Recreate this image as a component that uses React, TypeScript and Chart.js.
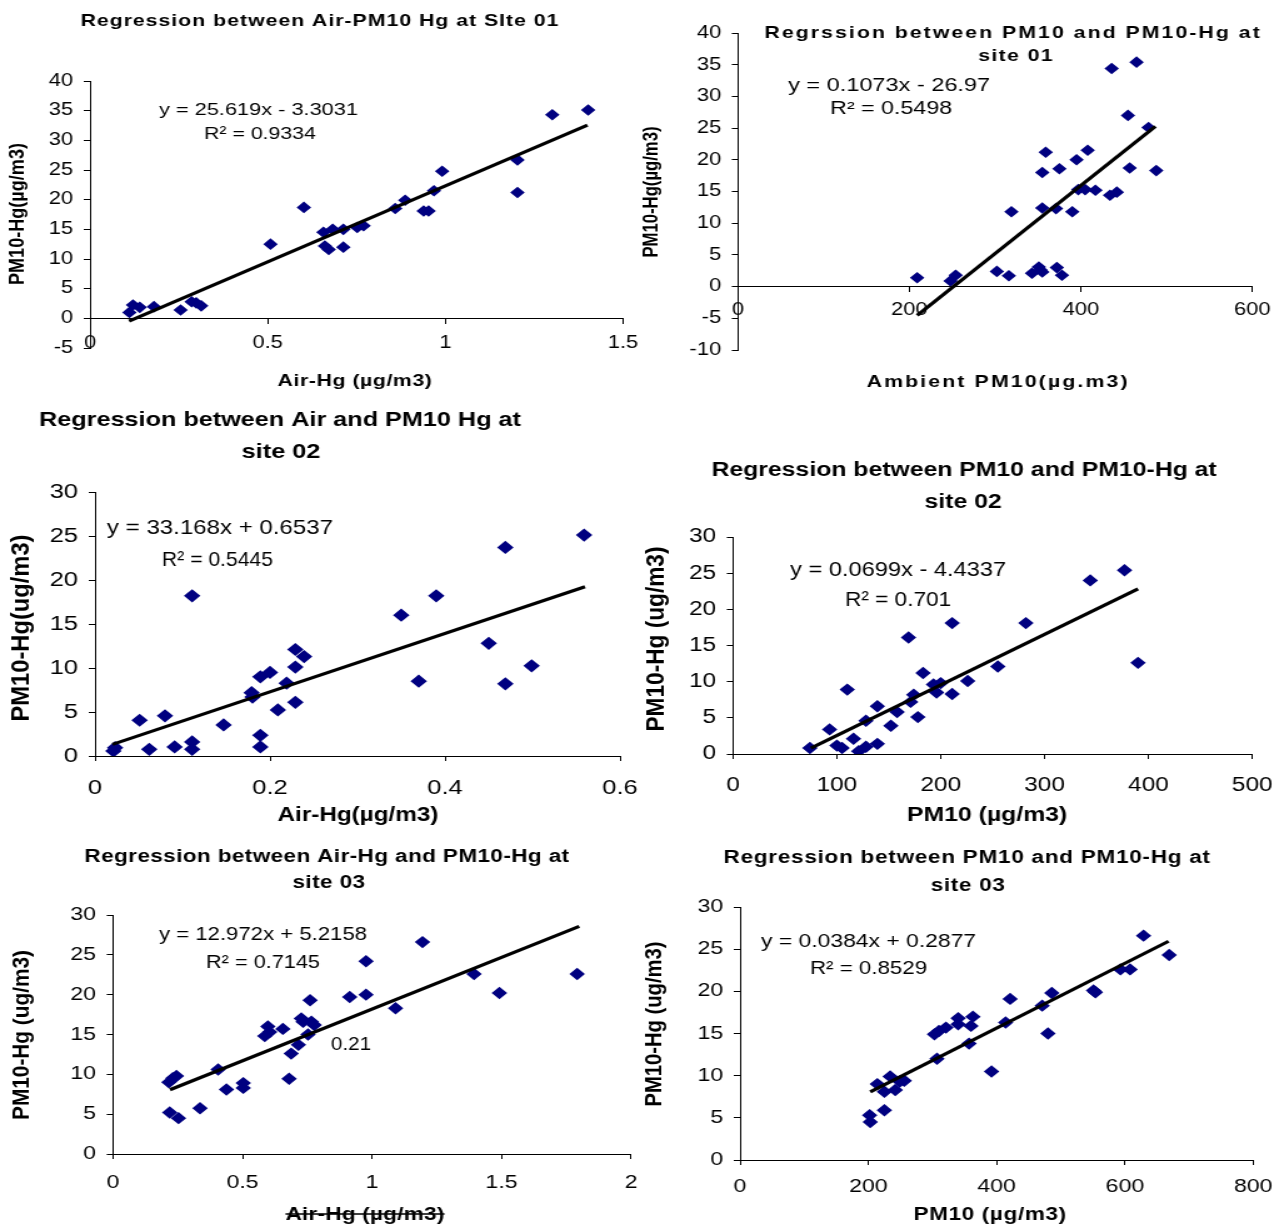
import React, { useEffect, useRef } from 'react';
import { Chart, registerables } from 'chart.js';

Chart.register(...registerables);

// ---------------- DATA ----------------
// Panel 1: Air-Hg vs PM10-Hg, site 01
const s1AirHg = [0.111, 0.121, 0.14, 0.18, 0.255, 0.286, 0.299, 0.313, 0.508, 0.602, 0.657, 0.661, 0.672, 0.683, 0.713, 0.713, 0.752, 0.77, 0.859, 0.887, 0.939, 0.953, 0.968, 0.991, 1.203, 1.203, 1.301, 1.402];
const s1PM10Hg = [1.0, 2.25, 1.85, 1.97, 1.4, 2.8, 2.6, 2.1, 12.5, 18.7, 14.5, 12.2, 11.6, 15.0, 15.0, 12.0, 15.3, 15.6, 18.5, 19.9, 18.1, 18.1, 21.5, 24.8, 26.7, 21.2, 34.3, 35.1];
const s1TrendX = [0.11, 1.4];
const s1TrendY = [-0.48, 32.56];

// Panel 2: Ambient PM10 vs PM10-Hg, site 01
const s1PM10 = [209, 248, 254, 302, 316, 319, 343, 351, 353, 355, 355, 355, 359, 371, 372, 378, 375, 390, 395, 397, 405, 408, 417, 434, 442, 436, 455, 457, 465, 479, 488];
const s1PM10HgB = [1.4, 0.9, 1.8, 2.4, 1.7, 11.8, 2.1, 3.1, 2.6, 2.3, 18.0, 12.4, 21.2, 12.3, 3.0, 1.8, 18.6, 11.8, 20.0, 15.3, 15.3, 21.5, 15.2, 14.4, 14.9, 34.4, 27.0, 18.7, 35.4, 25.1, 18.3];
const s1TrendBX = [209, 487];
const s1TrendBY = [-4.54, 25.29];

// Panel 3: Air-Hg vs PM10-Hg, site 02
const s2AirHg = [0.021, 0.023, 0.051, 0.062, 0.08, 0.091, 0.111, 0.111, 0.111, 0.147, 0.179, 0.18, 0.189, 0.189, 0.189, 0.2, 0.209, 0.219, 0.229, 0.229, 0.229, 0.239, 0.35, 0.37, 0.39, 0.45, 0.469, 0.469, 0.499, 0.559];
const s2PM10Hg = [0.57, 0.95, 4.06, 0.76, 4.56, 1.03, 18.2, 1.6, 0.76, 3.53, 7.2, 6.7, 2.35, 1.03, 9.0, 9.5, 5.24, 8.28, 10.1, 6.1, 12.1, 11.3, 16.0, 8.5, 18.2, 12.8, 23.7, 8.2, 10.25, 25.1];
const s2TrendX = [0.02, 0.56];
const s2TrendY = [1.32, 19.23];

// Panel 4: PM10 vs PM10-Hg, site 02
const s2PM10 = [74, 93, 100, 105, 110, 116, 121, 128, 128, 139, 139, 152, 158, 169, 171, 174, 178, 183, 193, 196, 200, 211, 211, 226, 255, 282, 344, 377, 390];
const s2PM10HgB = [0.83, 3.4, 1.16, 0.83, 8.9, 2.1, 0.37, 1.0, 4.6, 1.4, 6.6, 3.9, 5.8, 16.1, 7.2, 8.2, 5.1, 11.2, 9.6, 8.5, 9.8, 18.1, 8.3, 10.1, 12.1, 18.1, 24.0, 25.4, 12.6];
const s2TrendBX = [75, 390];
const s2TrendBY = [0.81, 22.83];

// Panel 5: Air-Hg vs PM10-Hg, site 03
const s3AirHg = [0.216, 0.231, 0.245, 0.219, 0.253, 0.336, 0.406, 0.438, 0.503, 0.503, 0.586, 0.598, 0.605, 0.656, 0.68, 0.688, 0.716, 0.727, 0.734, 0.753, 0.761, 0.766, 0.777, 0.914, 0.977, 0.977, 1.091, 1.195, 1.394, 1.492, 1.792];
const s3PM10Hg = [9.0, 9.5, 9.8, 5.2, 4.5, 5.75, 10.6, 8.1, 8.9, 8.3, 14.8, 16.0, 15.3, 15.7, 9.45, 12.6, 13.7, 17.0, 16.6, 15.0, 19.3, 16.6, 16.2, 19.7, 24.2, 20.0, 18.3, 26.6, 22.6, 20.2, 22.6];
const s3TrendX = [0.22, 1.8];
const s3TrendY = [8.07, 28.57];

// Panel 6: PM10 vs PM10-Hg, site 03
const s3PM10 = [202, 203, 214, 225, 225, 234, 242, 249, 256, 303, 307, 310, 321, 340, 340, 357, 360, 363, 392, 414, 421, 471, 480, 486, 551, 554, 593, 608, 629, 669];
const s3PM10HgB = [5.3, 4.5, 9.0, 5.9, 8.1, 9.9, 8.3, 9.3, 9.4, 14.9, 12.0, 15.3, 15.7, 16.1, 16.8, 13.8, 15.9, 17.0, 10.5, 16.3, 19.1, 18.3, 15.0, 19.8, 20.1, 19.9, 22.6, 22.6, 26.6, 24.3];
const s3TrendBX = [203, 668];
const s3TrendBY = [8.08, 25.94];

// Axis ranges [min, max, step]
const xRange1 = [0, 1.5, 0.5];
const yRange1 = [-5, 40, 5];
const xRange2 = [0, 600, 200];
const yRange2 = [-10, 40, 5];
const xRange3 = [0, 0.6, 0.2];
const yRange3 = [0, 30, 5];
const xRange4 = [0, 500, 100];
const yRange4 = [0, 30, 5];
const xRange5 = [0, 2, 0.5];
const yRange5 = [0, 30, 5];
const xRange6 = [0, 800, 200];
const yRange6 = [0, 30, 5];

// ---------------- STYLE ----------------
const SX = 1.25; // horizontal stretch of the original figure
const FONT = '"Liberation Sans", Arial, Helvetica, sans-serif';
const NAVY = '#000080';
const X_AXIS_H = 40;

type TextItem = {
  text: string; x: number; y: number; size: number; bold?: boolean;
  w?: number; fit?: 'spacing' | 'scale'; align?: 'center' | 'left';
  rotate?: boolean; strike?: boolean;
};

type Panel = {
  box: { x: number; y: number; w: number; h: number };
  plot: { l: number; t: number; r: number; b: number };
  xs: number[]; ys: number[]; tx: number[]; ty: number[];
  xr: number[]; yr: number[];
  tickSize: number; xPad: number; radius: number; zeroAxis: boolean;
  texts: TextItem[];
};

const panels: Panel[] = [
  {
    box: { x: 0, y: 0, w: 640, h: 400 }, plot: { l: 90, t: 81, r: 623, b: 348 },
    xs: s1AirHg, ys: s1PM10Hg, tx: s1TrendX, ty: s1TrendY, xr: xRange1, yr: yRange1,
    tickSize: 17.5, xPad: 9, radius: 5.8, zeroAxis: true,
    texts: [
      { text: 'Regression between Air-PM10 Hg at SIte 01', x: 320, y: 21, size: 17, bold: true, w: 479, fit: 'spacing' },
      { text: 'y = 25.619x - 3.3031', x: 159, y: 110, size: 17, align: 'left', w: 199 },
      { text: 'R² = 0.9334', x: 204, y: 134, size: 17, align: 'left', w: 112 },
      { text: 'Air-Hg (µg/m3)', x: 355, y: 381, size: 17, bold: true, w: 155, fit: 'spacing' },
      { text: 'PM10-Hg(µg/m3)', x: 18, y: 214, size: 16, bold: true, rotate: true, w: 142 },
    ],
  },
  {
    box: { x: 640, y: 0, w: 634, h: 400 }, plot: { l: 738, t: 33, r: 1252, b: 350 },
    xs: s1PM10, ys: s1PM10HgB, tx: s1TrendBX, ty: s1TrendBY, xr: xRange2, yr: yRange2,
    tickSize: 17.5, xPad: 8, radius: 5.8, zeroAxis: true,
    texts: [
      { text: 'Regrssion between PM10 and PM10-Hg at', x: 1013, y: 33, size: 17, bold: true, w: 497, fit: 'spacing' },
      { text: 'site 01', x: 1016, y: 56, size: 17, bold: true, w: 76, fit: 'spacing' },
      { text: 'y = 0.1073x - 26.97', x: 788, y: 86, size: 18, align: 'left', w: 202 },
      { text: 'R² = 0.5498', x: 830, y: 109, size: 18, align: 'left', w: 122 },
      { text: 'Ambient PM10(µg.m3)', x: 998, y: 382, size: 17, bold: true, w: 263, fit: 'spacing' },
      { text: 'PM10-Hg(µg/m3)', x: 652, y: 192, size: 16, bold: true, rotate: true, w: 131 },
    ],
  },
  {
    box: { x: 0, y: 400, w: 640, h: 430 }, plot: { l: 95, t: 492, r: 620, b: 756 },
    xs: s2AirHg, ys: s2PM10Hg, tx: s2TrendX, ty: s2TrendY, xr: xRange3, yr: yRange3,
    tickSize: 20.5, xPad: 15, radius: 6.6, zeroAxis: false,
    texts: [
      { text: 'Regression between Air and PM10 Hg at', x: 280, y: 420, size: 21, bold: true, w: 482, fit: 'spacing' },
      { text: 'site 02', x: 281, y: 452, size: 21, bold: true, w: 79, fit: 'spacing' },
      { text: 'y = 33.168x + 0.6537', x: 107, y: 528, size: 21, align: 'left', w: 226 },
      { text: 'R² = 0.5445', x: 162, y: 560, size: 21, align: 'left', w: 111 },
      { text: 'Air-Hg(µg/m3)', x: 358, y: 815, size: 21, bold: true, w: 161, fit: 'spacing' },
      { text: 'PM10-Hg(ug/m3)', x: 22, y: 628, size: 21, bold: true, rotate: true, w: 187 },
    ],
  },
  {
    box: { x: 640, y: 430, w: 634, h: 400 }, plot: { l: 733, t: 537, r: 1252, b: 754 },
    xs: s2PM10, ys: s2PM10HgB, tx: s2TrendBX, ty: s2TrendBY, xr: xRange4, yr: yRange4,
    tickSize: 19.5, xPad: 15, radius: 6.2, zeroAxis: false,
    texts: [
      { text: 'Regression between PM10 and PM10-Hg at', x: 964, y: 470, size: 20, bold: true, w: 505, fit: 'spacing' },
      { text: 'site 02', x: 963, y: 502, size: 20, bold: true, w: 77, fit: 'spacing' },
      { text: 'y = 0.0699x - 4.4337', x: 790, y: 570, size: 20, align: 'left', w: 216 },
      { text: 'R² = 0.701', x: 845, y: 600, size: 20, align: 'left', w: 106 },
      { text: 'PM10 (µg/m3)', x: 987, y: 815, size: 20, bold: true, w: 160, fit: 'spacing' },
      { text: 'PM10-Hg (ug/m3)', x: 657, y: 639, size: 20, bold: true, rotate: true, w: 185 },
    ],
  },
  {
    box: { x: 0, y: 830, w: 640, h: 397 }, plot: { l: 113, t: 915, r: 631, b: 1154 },
    xs: s3AirHg, ys: s3PM10Hg, tx: s3TrendX, ty: s3TrendY, xr: xRange5, yr: yRange5,
    tickSize: 18.5, xPad: 13, radius: 6.2, zeroAxis: false,
    texts: [
      { text: 'Regression between Air-Hg and PM10-Hg at', x: 327, y: 857, size: 18, bold: true, w: 485, fit: 'spacing' },
      { text: 'site 03', x: 329, y: 883, size: 18, bold: true, w: 73, fit: 'spacing' },
      { text: 'y = 12.972x + 5.2158', x: 159, y: 935, size: 19, align: 'left', w: 208 },
      { text: 'R² = 0.7145', x: 206, y: 963, size: 19, align: 'left', w: 114 },
      { text: '0.21', x: 331, y: 1045, size: 19, align: 'left', w: 40 },
      { text: 'Air-Hg (µg/m3)', x: 365, y: 1215, size: 18, bold: true, w: 159, fit: 'spacing', strike: true },
      { text: 'PM10-Hg (ug/m3)', x: 22, y: 1035, size: 18, bold: true, rotate: true, w: 170 },
    ],
  },
  {
    box: { x: 640, y: 830, w: 634, h: 397 }, plot: { l: 740, t: 907, r: 1253, b: 1160 },
    xs: s3PM10, ys: s3PM10HgB, tx: s3TrendBX, ty: s3TrendBY, xr: xRange6, yr: yRange6,
    tickSize: 18.5, xPad: 11, radius: 6.2, zeroAxis: false,
    texts: [
      { text: 'Regression between PM10 and PM10-Hg at', x: 967, y: 858, size: 18, bold: true, w: 487, fit: 'spacing' },
      { text: 'site 03', x: 968, y: 886, size: 18, bold: true, w: 75, fit: 'spacing' },
      { text: 'y = 0.0384x + 0.2877', x: 761, y: 942, size: 19, align: 'left', w: 215 },
      { text: 'R² = 0.8529', x: 810, y: 969, size: 19, align: 'left', w: 117 },
      { text: 'PM10 (µg/m3)', x: 990, y: 1215, size: 18, bold: true, w: 153, fit: 'spacing' },
      { text: 'PM10-Hg (ug/m3)', x: 655, y: 1024, size: 18, bold: true, rotate: true, w: 165 },
    ],
  },
];

function textPlugin(p: Panel) {
  return {
    id: 'panelText',
    afterDraw(chart: any) {
      const ctx: CanvasRenderingContext2D = chart.ctx;
      for (const it of p.texts) {
        ctx.save();
        ctx.font = `${it.bold ? 'bold ' : ''}${it.size}px ${FONT}`;
        ctx.fillStyle = '#000';
        ctx.strokeStyle = '#000';
        ctx.textBaseline = 'middle';
        ctx.textAlign = it.align || 'center';
        (ctx as any).letterSpacing = '0px';
        ctx.translate((it.x - p.box.x) / SX, it.y - p.box.y);
        if (it.rotate) ctx.rotate(-Math.PI / 2);
        const natural = ctx.measureText(it.text).width;
        let drawnW = natural;
        if (it.w) {
          const target = it.rotate ? it.w : it.w / SX;
          if (it.fit === 'spacing' && target > natural && it.text.length > 1) {
            const sp = (target - natural) / it.text.length;
            (ctx as any).letterSpacing = sp + 'px';
            drawnW = ctx.measureText(it.text).width;
          } else {
            ctx.scale(target / natural, 1);
          }
        }
        ctx.fillText(it.text, 0, 0);
        if (it.strike) {
          const x0 = it.align === 'left' ? 0 : -drawnW / 2;
          ctx.lineWidth = 1.5;
          ctx.beginPath();
          ctx.moveTo(x0, -1);
          ctx.lineTo(x0 + drawnW, -1);
          ctx.stroke();
        }
        ctx.restore();
      }
    },
  };
}

const fmtTick = (v: any) => String(Number(Number(v).toFixed(4)));

function buildConfig(p: Panel): any {
  const cw = Math.round(p.box.w / SX);
  const yAxisW = (p.plot.l - p.box.x) / SX;
  const rightPad = cw - (p.plot.r - p.box.x) / SX;
  const topPad = p.plot.t - p.box.y;
  const bottomPad = p.box.y + p.box.h - p.plot.b - (p.zeroAxis ? 0 : X_AXIS_H);
  const tickFont = { family: FONT, size: p.tickSize };
  const grid = { display: true, drawOnChartArea: false, drawTicks: true, tickLength: 5, color: '#000', lineWidth: 1 };
  const border = { display: true, color: '#000', width: 1 };
  return {
    type: 'scatter',
    data: {
      datasets: [
        {
          type: 'line',
          data: p.tx.map((x, i) => ({ x, y: p.ty[i] })),
          borderColor: '#000', borderWidth: 3.2, pointRadius: 0, fill: false, order: 0,
        },
        {
          type: 'scatter',
          data: p.xs.map((x, i) => ({ x, y: p.ys[i] })),
          pointStyle: 'rectRot', pointRadius: p.radius, pointHoverRadius: p.radius,
          backgroundColor: NAVY, borderColor: NAVY, borderWidth: 0, order: 1,
        },
      ],
    },
    options: {
      responsive: false,
      animation: false,
      devicePixelRatio: 1,
      events: [],
      layout: { padding: { left: 0, top: topPad, right: rightPad, bottom: bottomPad } },
      plugins: { legend: { display: false }, tooltip: { enabled: false }, title: { display: false } },
      scales: {
        x: {
          type: 'linear',
          position: p.zeroAxis ? { y: 0 } : 'bottom',
          min: p.xr[0], max: p.xr[1],
          ticks: { stepSize: p.xr[2], font: tickFont, color: '#000', padding: p.xPad, maxRotation: 0, autoSkip: false, callback: fmtTick },
          grid, border,
          afterFit: (s: any) => { s.height = X_AXIS_H; s.paddingLeft = 0; s.paddingRight = 0; },
        },
        y: {
          type: 'linear',
          position: 'left',
          min: p.yr[0], max: p.yr[1],
          ticks: { stepSize: p.yr[2], font: tickFont, color: '#000', padding: 8.5, autoSkip: false, callback: fmtTick },
          grid, border,
          afterFit: (s: any) => { s.width = yAxisW; s.paddingTop = 0; s.paddingBottom = 0; },
        },
      },
    },
    plugins: [textPlugin(p)],
  };
}

function PanelChart({ p }: { p: Panel }) {
  const ref = useRef<HTMLCanvasElement>(null);
  useEffect(() => {
    const chart = new Chart(ref.current as HTMLCanvasElement, buildConfig(p));
    return () => chart.destroy();
  }, [p]);
  return (
    <canvas
      ref={ref}
      width={Math.round(p.box.w / SX)}
      height={p.box.h}
      style={{ position: 'absolute', left: p.box.x, top: p.box.y, width: p.box.w, height: p.box.h }}
    />
  );
}

export default function App() {
  return (
    <div style={{ position: 'absolute', left: 0, top: 0, width: 1274, height: 1227, background: '#fff', overflow: 'hidden' }}>
      {panels.map((p, i) => <PanelChart key={i} p={p} />)}
    </div>
  );
}
